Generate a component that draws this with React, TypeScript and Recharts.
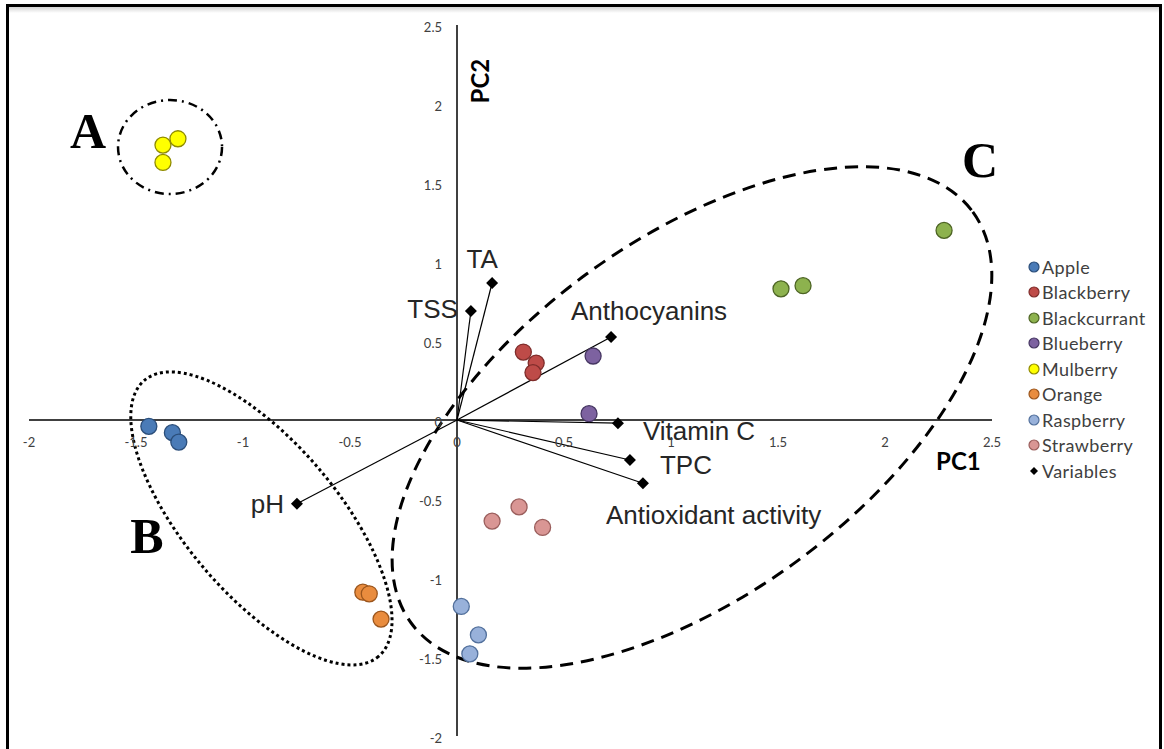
import {
	Legend,
	ReferenceArea,
	ReferenceLine,
	Scatter,
	ScatterChart,
	XAxis,
	YAxis
} from 'recharts'

// PC scores, one array per fruit (x = PC1, y = PC2)
const APPLE = [
	{ x: -1.44, y: -0.04 },
	{ x: -1.33, y: -0.08 },
	{ x: -1.3, y: -0.14 }
]
const BLACKBERRY = [
	{ x: 0.31, y: 0.43 },
	{ x: 0.37, y: 0.36 },
	{ x: 0.355, y: 0.3 }
]
const BLACKCURRANT = [
	{ x: 2.276, y: 1.2 },
	{ x: 1.514, y: 0.83 },
	{ x: 1.617, y: 0.85 }
]
const BLUEBERRY = [
	{ x: 0.636, y: 0.405 },
	{ x: 0.617, y: 0.04 }
]
const MULBERRY = [
	{ x: -1.374, y: 1.74 },
	{ x: -1.304, y: 1.78 },
	{ x: -1.374, y: 1.63 }
]
const ORANGE = [
	{ x: -0.44, y: -1.09 },
	{ x: -0.41, y: -1.1 },
	{ x: -0.355, y: -1.26 }
]
const RASPBERRY = [
	{ x: 0.02, y: -1.18 },
	{ x: 0.1, y: -1.36 },
	{ x: 0.06, y: -1.48 }
]
const STRAWBERRY = [
	{ x: 0.164, y: -0.64 },
	{ x: 0.29, y: -0.55 },
	{ x: 0.4, y: -0.68 }
]

// loadings of the measured variables
const VARIABLE_NAMES = ['TA', 'TSS', 'Anthocyanins', 'Vitamin C', 'TPC', 'Antioxidant activity', 'pH']
const VARIABLE_PC1 = [0.164, 0.065, 0.72, 0.752, 0.808, 0.869, -0.748]
const VARIABLE_PC2 = [0.867, 0.69, 0.525, -0.02, -0.253, -0.4, -0.53]

const AXIS_TICKS = [-2, -1.5, -1, -0.5, 0, 0.5, 1, 1.5, 2, 2.5]
const DOMAIN: [number, number] = [-2, 2.5]

const variables = VARIABLE_NAMES.map((name, i) => ({
	name,
	x: VARIABLE_PC1[i],
	y: VARIABLE_PC2[i]
}))

const FRUITS = [
	{ name: 'Apple', data: APPLE, fill: '#4a7bb7', stroke: '#2b4e7a' },
	{ name: 'Blackberry', data: BLACKBERRY, fill: '#be4b48', stroke: '#7f2d2b' },
	{ name: 'Blackcurrant', data: BLACKCURRANT, fill: '#8db24e', stroke: '#4d6424' },
	{ name: 'Blueberry', data: BLUEBERRY, fill: '#7d62a0', stroke: '#463662' },
	{ name: 'Mulberry', data: MULBERRY, fill: '#ffff00', stroke: '#8f8a00' },
	{ name: 'Orange', data: ORANGE, fill: '#e98c3e', stroke: '#9b551c' },
	{ name: 'Raspberry', data: RASPBERRY, fill: '#98b1da', stroke: '#52709c' },
	{ name: 'Strawberry', data: STRAWBERRY, fill: '#d99694', stroke: '#9a5e5c' }
]

// plot box in page pixels (chart sits at page 0,0)
const MARGIN = { top: 25, right: 172, bottom: 12, left: 28 }
const PLOT_W = 1164 - MARGIN.left - MARGIN.right - 1
const PLOT_H = 749 - MARGIN.top - MARGIN.bottom - 1
const ZERO_FROM_BOTTOM = (PLOT_H * (0 - DOMAIN[0])) / (DOMAIN[1] - DOMAIN[0])
const ZERO_FROM_LEFT = (PLOT_W * (0 - DOMAIN[0])) / (DOMAIN[1] - DOMAIN[0])

const TICK_FONT = 'Lato, "Open Sans", sans-serif'
const LABEL_FONT = '"Liberation Sans", Arial, sans-serif'

const VARIABLE_LABEL_POS: Record<string, { dx: number; dy: number; anchor: string }> = {
	TA: { dx: -10, dy: -15, anchor: 'middle' },
	TSS: { dx: -13, dy: 7, anchor: 'end' },
	Anthocyanins: { dx: 38, dy: -17, anchor: 'middle' },
	'Vitamin C': { dx: 25, dy: 17, anchor: 'start' },
	TPC: { dx: 30, dy: 14, anchor: 'start' },
	'Antioxidant activity': { dx: -37, dy: 41, anchor: 'start' },
	pH: { dx: -13, dy: 9, anchor: 'end' }
}

// group rings: centre in PC units, radii in px
const RINGS = [
	{ cx: -1.341, cy: 1.728, rx: 52, ry: 47, angle: 0, dash: '9 5 2 5', width: 2.5 },
	{ cx: -0.914, cy: -0.623, rx: 181, ry: 76, angle: 49.7, dash: '3 3', width: 3 },
	{ cx: 1.098, cy: 0.016, rx: 348, ry: 178, angle: -36.2, dash: '13 8', width: 3 }
]
const GROUP_LETTERS = [
	{ text: 'A', x: -1.724, y: 1.72 },
	{ text: 'B', x: -1.449, y: -0.842 },
	{ text: 'C', x: 2.444, y: 1.538 }
]

function XTick({ x, y, payload }: any) {
	return (
		<text
			x={x}
			y={y - ZERO_FROM_BOTTOM + 27}
			textAnchor="middle"
			fontFamily={TICK_FONT}
			fontSize={13}
			fill="#404040"
		>
			{payload.value}
		</text>
	)
}

function YTick({ x, y, payload }: any) {
	return (
		<text
			x={x + ZERO_FROM_LEFT - 15}
			y={y + 7}
			textAnchor="end"
			fontFamily={TICK_FONT}
			fontSize={13}
			fill="#404040"
		>
			{payload.value}
		</text>
	)
}

function fruitShape(fill: string, stroke: string) {
	return (props: any) => (
		<circle cx={props.cx} cy={props.cy} r={8} fill={fill} stroke={stroke} strokeWidth={1.3} />
	)
}

function VariableShape(props: any) {
	const { cx, cy, payload } = props
	const pos = VARIABLE_LABEL_POS[payload.name]
	return (
		<g>
			<polygon
				points={`${cx},${cy - 6} ${cx + 6},${cy} ${cx},${cy + 6} ${cx - 6},${cy}`}
				fill="#000"
			/>
			<text
				x={cx + pos.dx}
				y={cy + pos.dy}
				textAnchor={pos.anchor as any}
				fontFamily={LABEL_FONT}
				fontSize={26}
				fill="#262626"
			>
				{payload.name}
			</text>
		</g>
	)
}

// rings, group letters and axis titles, placed through the plot rect of a full-domain area
function Annotations(props: any) {
	const { x, y, width, height } = props
	const span = DOMAIN[1] - DOMAIN[0]
	const px = (v: number) => x + ((v - DOMAIN[0]) / span) * width
	const py = (v: number) => y + ((DOMAIN[1] - v) / span) * height
	return (
		<g>
			{RINGS.map((r, i) => (
				<ellipse
					key={i}
					cx={px(r.cx)}
					cy={py(r.cy)}
					rx={r.rx}
					ry={r.ry}
					transform={`rotate(${r.angle} ${px(r.cx)} ${py(r.cy)})`}
					fill="none"
					stroke="#000"
					strokeWidth={r.width}
					strokeDasharray={r.dash}
				/>
			))}
			{GROUP_LETTERS.map((g) => (
				<text
					key={g.text}
					x={px(g.x)}
					y={py(g.y)}
					textAnchor="middle"
					fontFamily='"Liberation Serif", "Times New Roman", serif'
					fontWeight="bold"
					fontSize={50}
					fill="#000"
				>
					{g.text}
				</text>
			))}
			<text
				x={px(2.343)}
				y={py(-0.316)}
				textAnchor="middle"
				fontFamily={TICK_FONT}
				fontWeight="bold"
				fontSize={24}
				fill="#000"
			>
				PC1
			</text>
			<text
				transform={`translate(${px(0.15)}, ${py(2.145)}) rotate(-90)`}
				textAnchor="middle"
				fontFamily={TICK_FONT}
				fontWeight="bold"
				fontSize={24}
				fill="#000"
			>
				PC2
			</text>
		</g>
	)
}

function FruitLegend({ payload }: any) {
	const items = payload ?? []
	return (
		<div style={{ display: 'flex', flexDirection: 'column' }}>
			{items.map((item: any) => {
				const fruit = FRUITS.find((f) => f.name === item.value)
				return (
					<div
						key={item.value}
						style={{ display: 'flex', alignItems: 'center', height: 25.5 }}
					>
						<svg width={12} height={12} style={{ marginRight: 2 }}>
							{fruit ? (
								<circle cx={6} cy={6} r={5} fill={fruit.fill} stroke={fruit.stroke} strokeWidth={1.2} />
							) : (
								<polygon points="6,2 10,6 6,10 2,6" fill="#000" />
							)}
						</svg>
						<span
							style={{
								fontFamily: TICK_FONT,
								fontSize: 18,
								letterSpacing: 0.4,
								color: '#404040',
								whiteSpace: 'nowrap'
							}}
						>
							{item.value}
						</span>
					</div>
				)
			})}
		</div>
	)
}

export default function App() {
	return (
		<div style={{ position: 'absolute', left: 0, top: 0, width: 1164, height: 749, background: '#fff', overflow: 'hidden' }}>
			<div
				style={{
					position: 'absolute',
					left: 6,
					top: 4,
					width: 1156,
					height: 760,
					boxSizing: 'border-box',
					border: '3px solid #000',
					borderBottom: 'none',
					background: 'linear-gradient(#d4d4d4 0px, #fff 6px)'
				}}
			/>
			<div style={{ position: 'absolute', left: 0, top: 0 }}>
				<ScatterChart width={1164} height={749} margin={MARGIN}>
					<XAxis
						type="number"
						dataKey="x"
						domain={DOMAIN}
						ticks={AXIS_TICKS}
						axisLine={false}
						tickLine={false}
						tickSize={0}
						tickMargin={0}
						height={1}
						interval={0}
						tick={<XTick />}
					/>
					<YAxis
						type="number"
						dataKey="y"
						domain={DOMAIN}
						ticks={AXIS_TICKS}
						axisLine={false}
						tickLine={false}
						tickSize={0}
						tickMargin={0}
						width={1}
						interval={0}
						tick={<YTick />}
					/>
					<ReferenceArea
						x1={DOMAIN[0]}
						x2={DOMAIN[1]}
						y1={DOMAIN[0]}
						y2={DOMAIN[1]}
						shape={(p: any) => <Annotations {...p} />}
					/>
					<ReferenceLine y={0} stroke="#000" strokeWidth={1.5} />
					<ReferenceLine x={0} stroke="#000" strokeWidth={1.5} />
					{variables.map((v) => (
						<ReferenceLine
							key={v.name}
							segment={[{ x: 0, y: 0 }, { x: v.x, y: v.y }]}
							stroke="#000"
							strokeWidth={1.2}
						/>
					))}
					{FRUITS.map((f) => (
						<Scatter
							key={f.name}
							name={f.name}
							data={f.data}
							fill={f.fill}
							shape={fruitShape(f.fill, f.stroke)}
							isAnimationActive={false}
						/>
					))}
					<Scatter
						name="Variables"
						data={variables}
						fill="#000"
						shape={VariableShape}
						isAnimationActive={false}
					/>
					<Legend
						layout="vertical"
						align="center"
						verticalAlign="middle"
						wrapperStyle={{ left: 1028, top: 254, width: 135 }}
						content={<FruitLegend />}
					/>
				</ScatterChart>
			</div>
		</div>
	)
}
